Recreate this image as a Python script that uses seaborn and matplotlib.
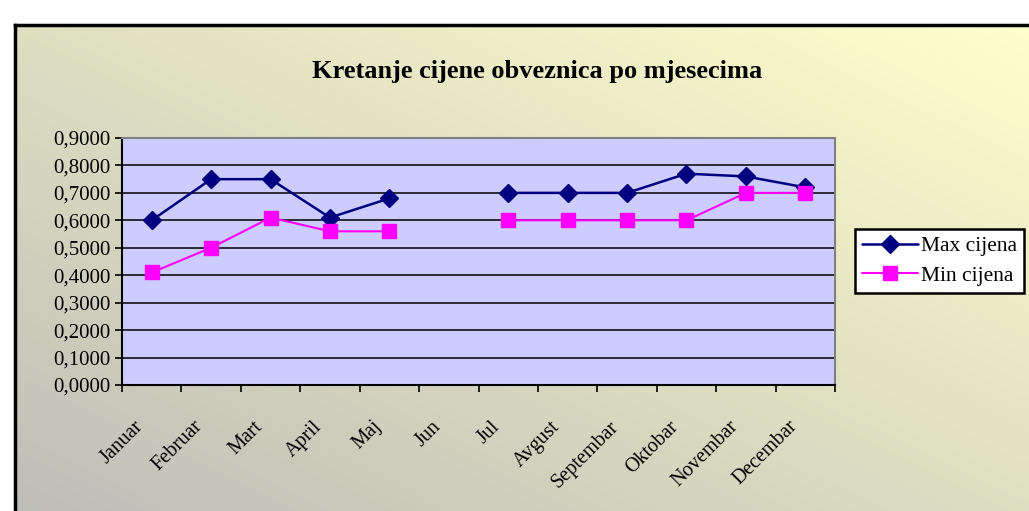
import numpy as np
import pandas as pd
import matplotlib
matplotlib.use("Agg")
import matplotlib.pyplot as plt
import seaborn as sns
from matplotlib.lines import Line2D
from matplotlib.ticker import FuncFormatter
from matplotlib.transforms import ScaledTranslation

# data
months = ["Januar", "Februar", "Mart", "April", "Maj", "Jun", "Jul",
          "Avgust", "Septembar", "Oktobar", "Novembar", "Decembar"]
max_cijena = [0.60, 0.75, 0.75, 0.61, 0.68, np.nan, 0.70, 0.70, 0.70, 0.77, 0.76, 0.72]
min_cijena = [0.41, 0.50, 0.61, 0.56, 0.56, np.nan, 0.60, 0.60, 0.60, 0.60, 0.70, 0.70]
# Jun has no data, so the line is broken in two pieces
segment = [0, 0, 0, 0, 0, 0, 1, 1, 1, 1, 1, 1]

series_names = ["Max cijena", "Min cijena"]
colors = {"Max cijena": "#000080", "Min cijena": "#FF00FF"}
markers = {"Max cijena": "D", "Min cijena": "s"}

x = np.arange(len(months))
df = pd.concat([
    pd.DataFrame({"x": x, "value": max_cijena, "seg": segment, "serie": "Max cijena"}),
    pd.DataFrame({"x": x, "value": min_cijena, "seg": segment, "serie": "Min cijena"}),
], ignore_index=True)

sns.set_style("white")
plt.rcParams["font.family"] = ["Liberation Serif", "DejaVu Serif"]
plt.rcParams["text.color"] = "black"
plt.rcParams["xtick.color"] = "black"
plt.rcParams["ytick.color"] = "black"

W, H = 1029, 511
fig = plt.figure(figsize=(W / 100, H / 100), dpi=100)
fig.patch.set_facecolor("white")

## chart area background with diagonal gradient
bg = fig.add_axes([15 / W, 0, 1 - 15 / W, 1 - 25 / H], zorder=0)
n = 200
u, v = np.meshgrid(np.linspace(0, 1, n), np.linspace(0, 1, n))
t = (u + v) / 2
gray = np.array([0xBE, 0xBE, 0xB8]) / 255
yellow = np.array([0xFF, 0xFF, 0xCC]) / 255
img = gray[None, None, :] + t[..., None] * (yellow - gray)[None, None, :]
bg.imshow(img, extent=[0, 1, 0, 1], origin="lower", aspect="auto")
bg.set_xlim(0, 1)
bg.set_ylim(0, 1)
bg.set_xticks([])
bg.set_yticks([])
for s in ["right", "bottom"]:
    bg.spines[s].set_visible(False)
for s in ["top", "left"]:
    bg.spines[s].set_color("black")
    bg.spines[s].set_linewidth(2.5)

## plot area
ax = fig.add_axes([122 / W, 1 - 385 / H, 713 / W, 247 / H], zorder=1)
ax.set_facecolor("#CCCCFF")

sns.lineplot(data=df, x="x", y="value", hue="serie", style="serie",
             units="seg", estimator=None, palette=colors, markers=markers,
             dashes=False, legend=False, ax=ax, markersize=9, linewidth=1.8)
for line in ax.lines:
    line.set_markeredgecolor(line.get_color())
    line.set_markeredgewidth(1.0)
    if line.get_marker() == "s":
        line.set_markersize(10.5)
        line.set_linewidth(1.5)
    line.set_zorder(3)

ax.set_xlim(-0.5, len(months) - 0.5)
ax.set_ylim(0, 0.9)
ax.set_yticks(np.arange(0, 0.91, 0.1))
ax.yaxis.set_major_formatter(FuncFormatter(lambda val, pos: f"{val:.4f}".replace(".", ",")))
ax.grid(axis="y", color="black", linewidth=1.1)
ax.set_axisbelow(True)

ax.set_xticks(x)
ax.set_xticklabels(months, rotation=45, ha="right", va="center", rotation_mode="anchor")
ax.set_xticks(np.arange(-0.5, len(months)), minor=True)
ax.tick_params(axis="x", which="major", length=0, pad=28, labelsize=14.5)
ax.tick_params(axis="x", which="minor", length=5, width=1.2, direction="out", color="black", bottom=True)
ax.tick_params(axis="y", length=5, width=1.2, direction="out", color="black", left=True, labelsize=15, pad=3)
shift = ScaledTranslation(-11 / 100, 0, fig.dpi_scale_trans)
for lab in ax.get_xticklabels():
    lab.set_transform(lab.get_transform() + shift)
ax.set_xlabel("")
ax.set_ylabel("")

for s in ["left", "bottom"]:
    ax.spines[s].set_color("black")
    ax.spines[s].set_linewidth(1.5)
for s in ["top", "right"]:
    ax.spines[s].set_color("#808080")
    ax.spines[s].set_linewidth(1.5)

fig.text(537 / W, 1 - 71 / H, "Kretanje cijene obveznica po mjesecima",
         ha="center", va="center", fontsize=19, fontweight="bold", color="black", zorder=2)

handles = [Line2D([], [], color=colors[nm], marker=markers[nm], markersize=9 if nm == "Max cijena" else 9.5,
                  markeredgecolor=colors[nm], linewidth=1.8 if nm == "Max cijena" else 1.5)
           for nm in series_names]
leg = fig.legend(handles, series_names, loc="upper left", bbox_to_anchor=(855 / W, 1 - 229 / H),
                 frameon=True, fancybox=False, fontsize=15.5, handlelength=2.6,
                 borderpad=0.33, labelspacing=0.45, handletextpad=0.15, borderaxespad=0,
                 facecolor="white", framealpha=1)
leg.get_frame().set_edgecolor("black")
leg.get_frame().set_linewidth(1.8)
leg.set_zorder(5)

fig.savefig("out.png", dpi=100)
